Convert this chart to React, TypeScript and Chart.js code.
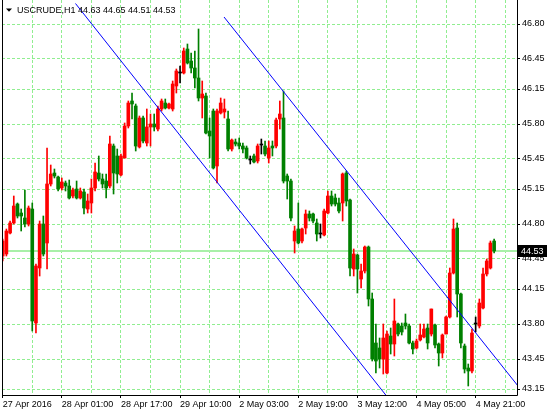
import React, { useEffect, useRef } from 'react';
import { Chart, registerables } from 'chart.js';
Chart.register(...registerables);

const symbolTitle = 'USCRUDE,H1';

const opens = [
  44.48, 44.50, 44.71, 44.81, 45.00, 44.91, 44.86, 44.80, 44.95, 43.81,
  44.36, 44.80, 44.61, 45.20, 45.31, 45.27, 45.16, 45.21, 45.18, 45.08,
  45.15, 45.06, 45.12, 44.95, 45.01, 45.16, 45.31, 45.25, 45.23, 45.18,
  45.58, 45.48, 45.29, 45.46, 45.78, 46.03, 45.98, 45.57, 45.86, 45.61,
  45.77, 45.80, 45.75, 45.95, 46.01, 45.96, 45.95, 46.18, 46.31, 46.31,
  46.55, 46.43, 46.36, 46.26, 46.06, 46.08, 45.73, 45.93, 45.38, 45.91,
  45.92, 45.85, 45.55, 45.62, 45.61, 45.58, 45.56, 45.44, 45.48, 45.43,
  45.59, 45.58, 45.46, 45.58, 45.58, 45.85, 45.86, 45.28, 45.23, 44.63,
  44.75, 44.63, 44.76, 44.90, 44.90, 44.81, 44.70, 44.69, 44.91, 45.08,
  45.06, 45.01, 45.01, 45.31, 45.04, 44.35, 44.49, 44.25, 44.33, 44.57,
  44.05, 43.61, 43.56, 43.45, 43.31, 43.68, 43.60, 43.80, 43.78, 43.81,
  43.78, 43.61, 43.56, 43.64, 43.67, 43.76, 43.70, 43.79, 43.60, 43.51,
  43.70, 43.87, 44.31, 44.76, 44.10, 43.58, 43.36, 43.33, 43.80, 43.78,
  43.96, 44.30, 44.36, 44.63,
];
const highs = [
  44.65, 44.75, 44.83, 45.08, 45.01, 44.95, 45.14, 44.98, 45.01, 44.40,
  44.83, 44.88, 45.56, 45.39, 45.35, 45.28, 45.26, 45.23, 45.24, 45.16,
  45.23, 45.16, 45.15, 45.10, 45.25, 45.41, 45.48, 45.30, 45.30, 45.68,
  45.60, 45.55, 45.50, 45.81, 46.03, 46.11, 46.00, 45.88, 45.88, 45.95,
  45.90, 45.90, 45.98, 46.05, 46.05, 46.01, 46.23, 46.35, 46.38, 46.56,
  46.60, 46.51, 46.53, 46.75, 46.23, 46.11, 45.86, 45.95, 45.95, 46.06,
  46.05, 45.93, 45.65, 45.65, 45.66, 45.61, 45.58, 45.48, 45.50, 45.60,
  45.65, 45.63, 45.63, 45.63, 45.86, 46.03, 46.13, 45.30, 45.25, 44.78,
  45.01, 44.76, 44.94, 44.93, 44.91, 44.85, 44.80, 44.95, 45.13, 45.13,
  45.10, 45.06, 45.31, 45.33, 45.05, 44.55, 44.50, 44.40, 44.58, 44.58,
  44.11, 43.80, 43.66, 43.80, 43.73, 43.76, 44.05, 43.81, 43.81, 43.90,
  43.80, 43.63, 43.65, 43.80, 43.80, 43.80, 43.95, 43.80, 43.61, 43.70,
  43.88, 44.36, 44.85, 44.81, 44.11, 43.60, 43.40, 43.75, 43.87, 44.05,
  44.36, 44.45, 44.63, 44.65,
];
const lows = [
  44.43, 44.48, 44.70, 44.80, 44.86, 44.73, 44.77, 44.78, 43.73, 43.71,
  44.28, 44.48, 44.35, 45.18, 45.26, 45.13, 45.14, 45.13, 45.05, 45.06,
  45.05, 45.05, 44.90, 44.91, 44.91, 45.13, 45.23, 45.16, 45.06, 45.16,
  45.10, 45.21, 45.28, 45.46, 45.76, 45.85, 45.53, 45.56, 45.61, 45.58,
  45.58, 45.73, 45.73, 45.93, 45.95, 45.95, 45.93, 46.11, 46.21, 46.30,
  46.40, 46.31, 46.16, 46.03, 45.86, 45.70, 45.46, 45.35, 45.21, 45.90,
  45.86, 45.53, 45.53, 45.58, 45.55, 45.51, 45.45, 45.40, 45.41, 45.41,
  45.50, 45.48, 45.41, 45.48, 45.56, 45.75, 45.21, 45.05, 44.83, 44.51,
  44.60, 44.61, 44.70, 44.83, 44.81, 44.63, 44.66, 44.68, 44.90, 44.98,
  44.98, 44.91, 44.83, 44.98, 44.28, 44.28, 44.11, 44.16, 44.31, 43.98,
  43.43, 43.31, 43.36, 43.30, 43.30, 43.50, 43.48, 43.68, 43.69, 43.75,
  43.60, 43.50, 43.55, 43.63, 43.66, 43.55, 43.68, 43.56, 43.38, 43.46,
  43.70, 43.86, 44.30, 43.87, 43.56, 43.31, 43.18, 43.31, 43.72, 43.76,
  43.95, 44.28, 44.35, 44.51,
];
const closes = [
  44.63, 44.73, 44.81, 44.98, 44.88, 44.88, 44.80, 44.96, 43.83, 44.38,
  44.80, 44.50, 45.20, 45.30, 45.28, 45.15, 45.22, 45.18, 45.06, 45.14,
  45.06, 45.13, 44.96, 45.03, 45.16, 45.32, 45.25, 45.20, 45.16, 45.60,
  45.31, 45.30, 45.48, 45.78, 46.01, 46.00, 45.58, 45.86, 45.63, 45.77,
  45.80, 45.77, 45.95, 46.03, 45.96, 46.00, 46.20, 46.33, 46.31, 46.53,
  46.41, 46.36, 46.26, 46.06, 46.10, 45.71, 45.68, 45.36, 45.93, 46.01,
  45.95, 45.55, 45.64, 45.60, 45.58, 45.55, 45.46, 45.44, 45.42, 45.58,
  45.59, 45.50, 45.56, 45.56, 45.84, 45.90, 45.23, 45.23, 44.86, 44.73,
  44.61, 44.75, 44.90, 44.86, 44.83, 44.70, 44.70, 44.93, 45.08, 45.00,
  45.00, 44.93, 45.30, 45.03, 44.36, 44.50, 44.35, 44.33, 44.57, 44.05,
  43.45, 43.43, 43.45, 43.66, 43.70, 43.60, 43.83, 43.70, 43.72, 43.78,
  43.61, 43.55, 43.63, 43.69, 43.75, 43.61, 43.95, 43.59, 43.51, 43.69,
  43.87, 44.31, 44.75, 44.10, 43.61, 43.35, 43.33, 43.71, 43.80, 44.01,
  44.30, 44.43, 44.61, 44.53,
];

// time labels, one every 16 bars; grid every 8 bars
const xTickLabels = [
  '27 Apr 2016', '28 Apr 01:00', '28 Apr 17:00', '29 Apr 10:00', '2 May 03:00',
  '2 May 19:00', '3 May 12:00', '4 May 05:00', '4 May 21:00',
];
const labelEvery = 16;
const gridEvery = 8;
const yTickValues = [46.80, 46.45, 46.15, 45.80, 45.45, 45.15, 44.80, 44.45, 44.15, 43.80, 43.45, 43.15];

// trend lines: [bar index, price]
const trendLowerX = [19.7, 105.6];
const trendLowerY = [47.005, 43.0];
const trendUpperX = [59.9, 142.7];
const trendUpperY = [46.87, 43.03];

const UP = '#ff0000';
const DOWN = '#008000';
const DOJI = '#000000';
const GRID = '#90ee90';
const FONT = 'Liberation Sans';

const candleColor = (i: number) =>
  closes[i] > opens[i] ? UP : closes[i] < opens[i] ? DOWN : DOJI;

export default function App() {
  const ref = useRef<HTMLCanvasElement | null>(null);

  useEffect(() => {
    if (!ref.current) return;
    const n = closes.length - 1;
    const colors = closes.map((_, i) => candleColor(i));

    const decor = {
      id: 'mt4decor',
      afterDraw(chart: any) {
        const { ctx, chartArea: a, scales } = chart;
        ctx.save();
        ctx.strokeStyle = '#000';
        ctx.lineWidth = 1;
        ctx.setLineDash([]);
        ctx.beginPath();
        ctx.moveTo(a.left + 0.5, a.top);
        ctx.lineTo(a.left + 0.5, a.bottom + 0.5);
        ctx.lineTo(a.right + 0.5, a.bottom + 0.5);
        ctx.lineTo(a.right + 0.5, a.top);
        ctx.stroke();

        ctx.fillStyle = '#000';
        ctx.beginPath();
        ctx.moveTo(6, 8.5);
        ctx.lineTo(12, 8.5);
        ctx.lineTo(9, 11.8);
        ctx.closePath();
        ctx.fill();
        ctx.font = `9px "${FONT}"`;
        ctx.textAlign = 'left';
        ctx.textBaseline = 'alphabetic';
        ctx.fillText(symbolTitle, 17, 13);
        ctx.fillText(
          [opens[n], highs[n], lows[n], closes[n]].map((v) => v.toFixed(2)).join(' '),
          78,
          13
        );

        const y = scales.y.getPixelForValue(closes[n]);
        ctx.fillStyle = '#000';
        ctx.fillRect(a.right + 1, Math.round(y) - 6, 29, 12);
        ctx.fillStyle = '#fff';
        ctx.textBaseline = 'middle';
        ctx.fillText(closes[n].toFixed(2), a.right + 4, y + 0.5);
        ctx.restore();
      },
    };

    const chart = new Chart(ref.current, {
      type: 'bar',
      data: {
        datasets: [
          {
            type: 'line',
            data: [
              { x: -5, y: closes[n] },
              { x: 150, y: closes[n] },
            ],
            borderColor: '#a8f0a8',
            borderWidth: 2,
            pointRadius: 0,
            fill: false,
            order: 4,
          } as any,
          {
            type: 'bar',
            data: closes.map((_, i) => ({ x: i, y: [lows[i], highs[i]] })),
            backgroundColor: colors,
            barThickness: 1,
            grouped: false,
            minBarLength: 1,
            borderWidth: 0,
            order: 3,
          } as any,
          {
            type: 'bar',
            data: closes.map((_, i) => ({ x: i, y: [opens[i], closes[i]] })),
            backgroundColor: colors,
            barThickness: 3,
            grouped: false,
            minBarLength: 1,
            borderWidth: 0,
            order: 2,
          } as any,
          {
            type: 'line',
            data: trendLowerX.map((x, i) => ({ x, y: trendLowerY[i] })),
            borderColor: '#0000ff',
            borderWidth: 1,
            pointRadius: 0,
            fill: false,
            order: 1,
          } as any,
          {
            type: 'line',
            data: trendUpperX.map((x, i) => ({ x, y: trendUpperY[i] })),
            borderColor: '#0000ff',
            borderWidth: 1,
            pointRadius: 0,
            fill: false,
            order: 1,
          } as any,
        ],
      },
      options: {
        responsive: false,
        animation: false,
        events: [],
        layout: { padding: { left: 2, right: 0, top: 0, bottom: 0 } },
        plugins: {
          legend: { display: false },
          tooltip: { enabled: false },
          title: { display: false },
        },
        scales: {
          x: {
            type: 'linear',
            position: 'bottom',
            min: -0.19,
            max: 139.19,
            offset: false,
            grid: {
              offset: false,
              color: GRID,
              lineWidth: 1,
              drawTicks: true,
              tickLength: 3,
              tickBorderDash: [],
              tickColor: (c: any) =>
                c.tick && c.tick.value % labelEvery === 0 ? '#000' : 'rgba(0,0,0,0)',
            },
            border: { display: false, dash: [3, 2] },
            ticks: {
              autoSkip: false,
              maxRotation: 0,
              minRotation: 0,
              align: 'start',
              padding: 1,
              color: '#000',
              font: { family: FONT, size: 9 },
              callback: (v: any) =>
                v % labelEvery === 0 ? xTickLabels[v / labelEvery] ?? '' : '',
            },
            afterBuildTicks: (scale: any) => {
              const t = [];
              for (let v = 0; v <= 139; v += gridEvery) t.push({ value: v });
              scale.ticks = t;
            },
            afterFit: (scale: any) => {
              scale.height = 20;
              scale.paddingLeft = 0;
              scale.paddingRight = 0;
            },
          } as any,
          y: {
            type: 'linear',
            position: 'right',
            min: 43.09,
            max: 47.04,
            beginAtZero: false,
            grid: {
              color: GRID,
              lineWidth: 1,
              drawTicks: true,
              tickLength: 3,
              tickBorderDash: [],
              tickColor: '#000',
            },
            border: { display: false, dash: [3, 2] },
            ticks: {
              padding: 2,
              color: '#000',
              font: { family: FONT, size: 9 },
              callback: (v: any) => Number(v).toFixed(2),
            },
            afterBuildTicks: (scale: any) => {
              scale.ticks = yTickValues.map((value) => ({ value }));
            },
            afterFit: (scale: any) => {
              scale.width = 37;
              scale.paddingTop = 0;
              scale.paddingBottom = 0;
            },
          } as any,
        },
      },
      plugins: [decor],
    } as any);

    return () => chart.destroy();
  }, []);

  return (
    <div style={{ position: 'fixed', left: 0, top: 0, width: 554, height: 415, background: '#fff' }}>
      <canvas ref={ref} width={554} height={415} style={{ display: 'block', width: 554, height: 415 }} />
    </div>
  );
}
